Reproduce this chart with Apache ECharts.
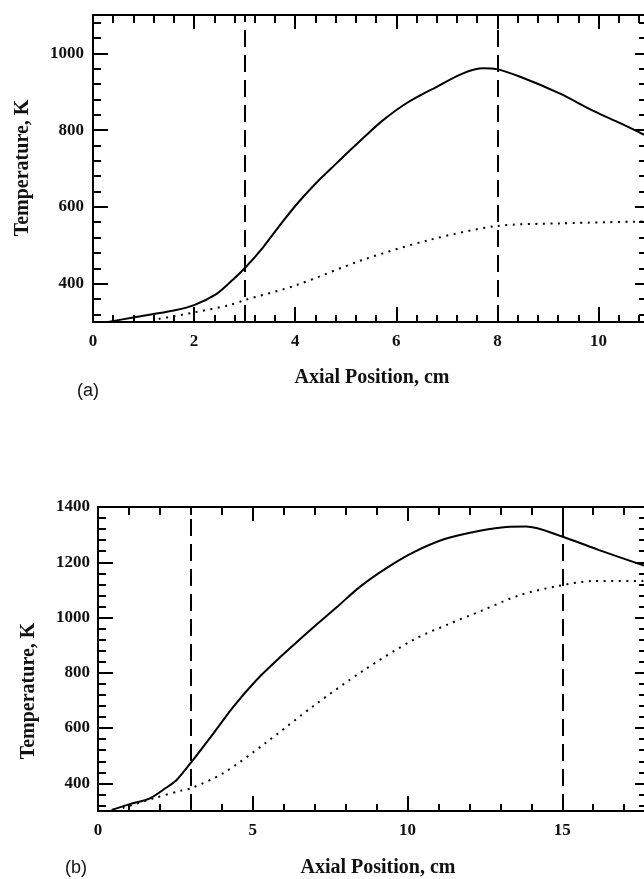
<!DOCTYPE html>
<html>
<head>
<meta charset="utf-8">
<title>Axial temperature profiles</title>
<script src="https://cdn.jsdelivr.net/npm/echarts@6/dist/echarts.min.js"></script>
<style>
  html, body { margin: 0; padding: 0; background: #fff; }
  #chart { width: 644px; height: 879px; }
</style>
</head>
<body>
<div id="chart"></div>
<script>
// ---------- Panel (a) ----------
const aSolidX = [0.3, 0.8, 1.6, 2.0, 2.43, 2.7, 3.0, 3.36, 3.76, 4.09, 4.42, 4.82, 5.08, 5.34, 5.74, 6.2, 6.8, 7.32, 7.72, 7.98, 8.45, 9.24, 9.9, 10.43, 10.9];
const aSolidT = [300, 312, 330, 344, 372, 402, 440, 494, 563, 616, 663, 714, 747, 779, 826, 870, 913, 948, 961, 959, 939, 895, 850, 818, 788];
const aDotX = [1.3, 2.0, 2.7, 3.0, 4.02, 5.34, 6.66, 7.98, 9.24, 10.9];
const aDotT = [308, 325, 344, 357, 396, 462, 514, 550, 557, 562];
const aMarkers = [3, 8];
const aXTicks = [0, 2, 4, 6, 8, 10];
const aYTicks = [400, 600, 800, 1000];
const aXRange = [0, 10.9];
const aYRange = [300, 1100];

// ---------- Panel (b) ----------
const bSolidX = [0.44, 1.03, 1.68, 2.2, 2.54, 3.03, 3.73, 4.37, 5.13, 5.88, 6.96, 7.71, 8.47, 9.33, 10.19, 11.2, 12.34, 13.2, 13.83, 14.9, 16.19, 17.64];
const bSolidT = [304, 325, 346, 384, 412, 479, 581, 677, 775, 856, 965, 1037, 1112, 1180, 1236, 1284, 1314, 1328, 1329, 1297, 1244, 1188];
const bDotX = [0.8, 1.8, 2.7, 3.0, 4.05, 5.4, 6.96, 8.57, 10.2, 11.3, 12.4, 13.6, 14.9, 16.0, 17.64];
const bDotT = [311, 346, 374, 382, 437, 545, 680, 808, 920, 975, 1025, 1080, 1115, 1132, 1132];
const bMarkers = [3, 15];
const bXTicks = [0, 5, 10, 15];
const bYTicks = [400, 600, 800, 1000, 1200, 1400];
const bXRange = [0, 17.64];
const bYRange = [300, 1400];

// Text
const yTitle = 'Temperature, K';
const xTitle = 'Axial Position, cm';
const panelA = '(a)';
const panelB = '(b)';

// Minor tick positions between the labelled ones
function minorTicks(range, step, majors) {
  const out = [];
  const start = Math.ceil(range[0] / step - 1e-9) * step;
  for (let v = start; v <= range[1] + 1e-9; v += step) {
    const r = Math.round(v * 1000) / 1000;
    if (!majors.some(m => Math.abs(m - r) < 1e-6) && r > range[0] + 1e-6 && r < range[1] - 1e-6) out.push(r);
  }
  return out;
}

const INK = '#000';
const SERIF = '"Liberation Serif", "Times New Roman", serif';
const tickFont = {
  fontFamily: SERIF, fontWeight: 'bold', fontSize: 17, color: '#111',
  formatter: v => String(v)
};

function zip(xs, ys) { return xs.map((x, i) => [x, ys[i]]); }

// One panel = a grid with stacked axes: labelled major ticks plus an extra axis for short minor ticks
function buildPanel(gridIndex, xr, yr, xMaj, xMinStep, yMaj, yMinStep, xMargin, yMargin) {
  const xMin = minorTicks(xr, xMinStep, xMaj);
  const yMin = minorTicks(yr, yMinStep, yMaj);
  const base = {
    type: 'value', gridIndex: gridIndex, splitLine: { show: false },
    axisPointer: { show: false }
  };
  const xAxes = [
    Object.assign({}, base, {
      position: 'bottom', min: xr[0], max: xr[1],
      axisLine: { show: true, onZero: false, lineStyle: { color: INK, width: 2 } },
      axisTick: { show: true, inside: true, length: 15, customValues: xMaj, lineStyle: { color: INK, width: 2 } },
      axisLabel: Object.assign({ show: true, customValues: xMaj, margin: xMargin }, tickFont)
    }),
    Object.assign({}, base, {
      position: 'bottom', min: xr[0], max: xr[1],
      axisLine: { show: false, onZero: false },
      axisTick: { show: true, inside: true, length: 7, customValues: xMin, lineStyle: { color: INK, width: 2 } },
      axisLabel: { show: false }
    }),
    Object.assign({}, base, {
      position: 'top', min: xr[0], max: xr[1],
      axisLine: { show: true, onZero: false, lineStyle: { color: INK, width: 2 } },
      axisTick: { show: true, inside: true, length: 14, customValues: xMaj, lineStyle: { color: INK, width: 2 } },
      axisLabel: { show: false }
    }),
    Object.assign({}, base, {
      position: 'top', min: xr[0], max: xr[1],
      axisLine: { show: false, onZero: false },
      axisTick: { show: true, inside: true, length: 8, customValues: xMin, lineStyle: { color: INK, width: 2 } },
      axisLabel: { show: false }
    })
  ];
  const yAxes = [
    Object.assign({}, base, {
      position: 'left', min: yr[0], max: yr[1],
      axisLine: { show: true, onZero: false, lineStyle: { color: INK, width: 2 } },
      axisTick: { show: true, inside: true, length: 15, customValues: yMaj, lineStyle: { color: INK, width: 2 } },
      axisLabel: Object.assign({ show: true, customValues: yMaj, margin: yMargin }, tickFont)
    }),
    Object.assign({}, base, {
      position: 'left', min: yr[0], max: yr[1],
      axisLine: { show: false, onZero: false },
      axisTick: { show: true, inside: true, length: 8, customValues: yMin, lineStyle: { color: INK, width: 2 } },
      axisLabel: { show: false }
    }),
    Object.assign({}, base, {
      position: 'right', min: yr[0], max: yr[1],
      axisLine: { show: false, onZero: false },
      axisTick: { show: true, inside: true, length: 9, customValues: yMaj, lineStyle: { color: INK, width: 2 } },
      axisLabel: { show: false }
    }),
    Object.assign({}, base, {
      position: 'right', min: yr[0], max: yr[1],
      axisLine: { show: false, onZero: false },
      axisTick: { show: true, inside: true, length: 5, customValues: yMin, lineStyle: { color: INK, width: 2 } },
      axisLabel: { show: false }
    })
  ];
  return { xAxes, yAxes };
}

const pA = buildPanel(0, aXRange, aYRange, aXTicks, 0.4, aYTicks, 40, 11, 9);
const pB = buildPanel(1, bXRange, bYRange, bXTicks, 1, bYTicks, 40, 11, 8);

function curve(name, xs, ys, xIdx, yIdx, dotted, markers) {
  const s = {
    name: name, type: 'line', xAxisIndex: xIdx, yAxisIndex: yIdx,
    data: zip(xs, ys), showSymbol: false, symbol: 'none',
    smooth: 0.3, silent: true, z: 3,
    lineStyle: dotted
      ? { color: INK, width: 2, type: [2, 5.5], cap: 'butt' }
      : { color: INK, width: 2 }
  };
  if (markers) {
    s.markLine = {
      silent: true, symbol: ['none', 'none'], animation: false,
      label: { show: false },
      lineStyle: { color: INK, width: 2, type: [17, 8] },
      emphasis: { disabled: true },
      data: markers.map(m => ({ xAxis: m }))
    };
  }
  return s;
}

const titleFont = 'bold 20px ' + SERIF;
const panelFont = '18px "Liberation Sans", Arial, sans-serif';

const option = {
  backgroundColor: '#fff',
  animation: false,
  grid: [
    { left: 93, top: 15, right: 0, height: 307, outerBoundsMode: 'none', containLabel: false },
    { left: 98, top: 507, right: 0, height: 304, outerBoundsMode: 'none', containLabel: false }
  ],
  xAxis: pA.xAxes.concat(pB.xAxes),
  yAxis: pA.yAxes.concat(pB.yAxes),
  series: [
    curve('a-solid', aSolidX, aSolidT, 0, 0, false, aMarkers),
    curve('a-dotted', aDotX, aDotT, 0, 0, true, null),
    curve('b-solid', bSolidX, bSolidT, 4, 4, false, bMarkers),
    curve('b-dotted', bDotX, bDotT, 4, 4, true, null)
  ],
  graphic: [
    { type: 'text', x: 23, y: 168, rotation: Math.PI / 2, silent: true,
      style: { text: yTitle, font: titleFont, fill: '#111', textAlign: 'center', textVerticalAlign: 'middle' } },
    { type: 'text', x: 372, y: 378, silent: true,
      style: { text: xTitle, font: titleFont, fill: '#111', textAlign: 'center', textVerticalAlign: 'middle' } },
    { type: 'text', x: 88, y: 391, silent: true,
      style: { text: panelA, font: panelFont, fill: '#111', textAlign: 'center', textVerticalAlign: 'middle' } },
    { type: 'text', x: 29, y: 691, rotation: Math.PI / 2, silent: true,
      style: { text: yTitle, font: titleFont, fill: '#111', textAlign: 'center', textVerticalAlign: 'middle' } },
    { type: 'text', x: 378, y: 868, silent: true,
      style: { text: xTitle, font: titleFont, fill: '#111', textAlign: 'center', textVerticalAlign: 'middle' } },
    { type: 'text', x: 76, y: 868, silent: true,
      style: { text: panelB, font: panelFont, fill: '#111', textAlign: 'center', textVerticalAlign: 'middle' } }
  ]
};

const chart = echarts.init(document.getElementById('chart'), null, { renderer: 'canvas' });
chart.setOption(option);
</script>
</body>
</html>
